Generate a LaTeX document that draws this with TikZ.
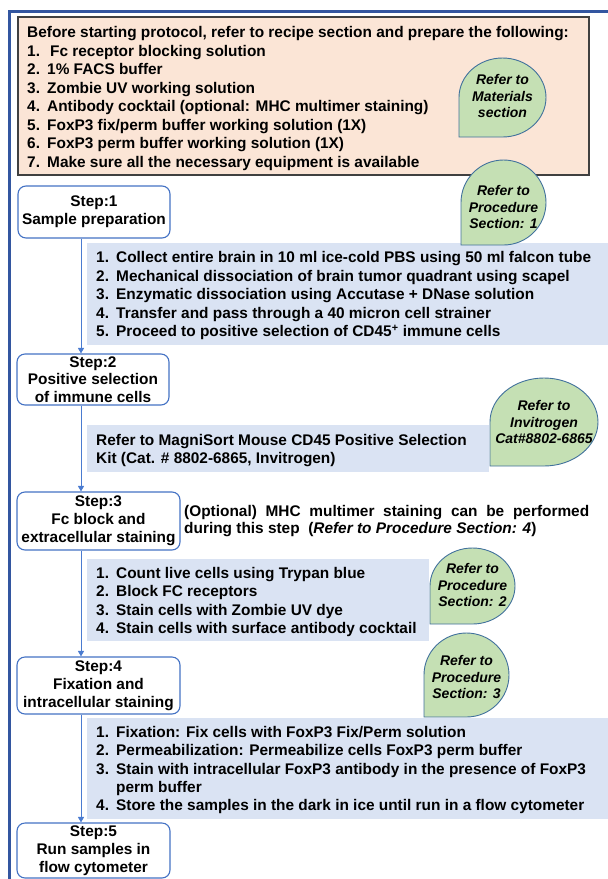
\documentclass[tikz,border=0pt]{standalone}
\usepackage{fontspec}
\setmainfont{Liberation Sans}
\usetikzlibrary{arrows.meta}
\definecolor{peach}{HTML}{FBE5D6}
\definecolor{lblue}{HTML}{DAE3F3}
\definecolor{cgreen}{HTML}{C5E0B4}
\definecolor{cedge}{HTML}{41719C}
\definecolor{sedge}{HTML}{4472C4}
\definecolor{frameblue}{HTML}{3356A0}
\definecolor{arrblue}{HTML}{4A7BD0}
\definecolor{boxedge}{HTML}{404040}
\tikzset{
 stepbox/.style={draw=sedge, line width=1.1pt, rounded corners=8pt, fill=white, align=center,
   font=\fontsize{15.4}{17.8}\selectfont\bfseries, inner sep=0pt},
 calloutshape/.style={draw=cedge, fill=cgreen, line width=0.9pt},
 callouttext/.style={align=center, font=\fontsize{14}{16.5}\selectfont\bfseries\itshape, inner sep=0pt},
 listtext/.style={anchor=base west, inner sep=0pt, font=\fontsize{15.4}{18.4}\selectfont\bfseries},
 arr/.style={draw=arrblue, line width=1pt, -{Triangle[length=5.5pt,width=6pt]}},
 panel/.style={fill=lblue, draw=none},
}
\newcommand{\itm}[1]{\makebox[20pt][l]{#1}}
% teardrop callout: x1 y1 x2 y2 name textcentery text
\newcommand{\tdrop}[7]{%
 \pgfmathsetmacro\tdcx{(#1+#3)/2}\pgfmathsetmacro\tdcy{(#2+#4)/2}%
 \pgfmathsetmacro\tdkx{0.5523*(#3-#1)/2}\pgfmathsetmacro\tdky{0.5523*(#4-#2)/2}%
 \draw[calloutshape] (#1,\tdcy) -- (#1,#4) -- (\tdcx,#4)
   .. controls (\tdcx+\tdkx,#4) and (#3,\tdcy+\tdky) .. (#3,\tdcy)
   .. controls (#3,\tdcy-\tdky) and (\tdcx+\tdkx,#2) .. (\tdcx,#2)
   .. controls (\tdcx-\tdkx,#2) and (#1,\tdcy-\tdky) .. (#1,\tdcy) -- cycle;
 \node[callouttext] (#5) at (\tdcx,#6) {#7};}
\begin{document}
\begin{tikzpicture}[x=1pt,y=-1pt]
\useasboundingbox (0,0) rectangle (608,879);
% outer frame
\draw[frameblue, line width=3pt] (9.5,880) -- (9.5,11) -- (609,11);
% top box
\draw[fill=peach, draw=boxedge, line width=1.2pt] (18,17) rectangle (589,175);
\node[listtext] (prep) at (27,37.5) {\parbox[t]{560pt}{\fontsize{15.4}{18.5}\selectfont\bfseries
Before starting protocol, refer to recipe section and prepare the following:\\
\itm{1.}\hspace{3pt}Fc receptor blocking solution\\
\itm{2.}1\% FACS buffer\\
\itm{3.}Zombie UV working solution\\
\itm{4.}Antibody cocktail (optional: MHC multimer staining)\\
\itm{5.}FoxP3 fix/perm buffer working solution (1X)\\
\itm{6.}FoxP3 perm buffer working solution (1X)\\
\itm{7.}Make sure all the necessary equipment is available}};
\tdrop{459}{58}{546}{137}{cmat}{96}{Refer to\\Materials\\section}
% anchor for connectors
\coordinate (ax) at (81,0);
% step boxes
\node[stepbox, minimum width=152pt, minimum height=52pt] (s1) at (94,212) {Step:1\\Sample preparation};
\node[stepbox, minimum width=152pt, minimum height=51pt] (s2) at (93,379.5) {Step:2\\Positive selection\\of immune cells};
\node[stepbox, minimum width=163pt, minimum height=58pt] (s3) at (98.5,521) {Step:3\\Fc block and\\extracellular staining};
\node[stepbox, minimum width=163pt, minimum height=57pt] (s4) at (98.5,685.5) {Step:4\\Fixation and\\intracellular staining};
\node[stepbox, minimum width=153pt, minimum height=55pt] (s5) at (93.5,850.5) {Step:5\\Run samples in\\flow cytometer};
% panels
\fill[panel] (87,243) rectangle (609,345);
\node[listtext] (p1) at (96,262.5) {\parbox[t]{510pt}{\fontsize{15.4}{18.5}\selectfont\bfseries
\itm{1.}Collect entire brain in 10 ml ice-cold PBS using 50 ml falcon tube\\
\itm{2.}Mechanical dissociation of brain tumor quadrant using scapel\\
\itm{3.}Enzymatic dissociation using Accutase + DNase solution\\
\itm{4.}Transfer and pass through a 40 micron cell strainer\\
\itm{5.}Proceed to positive selection of CD45\textsuperscript{+} immune cells}};
\tdrop{461}{160}{546}{245}{cp1}{207}{Refer to\\Procedure\\Section: 1}
\fill[panel] (87,425) rectangle (489,472);
\node[listtext] (p2) at (96,445.5) {\parbox[t]{390pt}{\fontsize{15.4}{18}\selectfont\bfseries
Refer to MagniSort Mouse CD45 Positive Selection\\
Kit (Cat. \# 8802-6865, Invitrogen)}};
\tdrop{490}{378}{598}{466}{cinv}{422}{Refer to\\Invitrogen\\Cat\#8802-6865}
\node[listtext] (opt1) at (184,516.5) {\makebox[405pt][s]{(Optional) MHC multimer staining can be performed}};
\node[listtext] (opt2) at (184,533.5) {during this step\ \ (\textit{Refer to Procedure Section: 4})};
\fill[panel] (87,559) rectangle (429,641);
\node[listtext] (p3) at (96,578.5) {\parbox[t]{330pt}{\fontsize{15.4}{18.4}\selectfont\bfseries
\itm{1.}Count live cells using Trypan blue\\
\itm{2.}Block FC receptors\\
\itm{3.}Stain cells with Zombie UV dye\\
\itm{4.}Stain cells with surface antibody cocktail}};
\tdrop{430}{548}{515}{624}{cp2}{585}{Refer to\\Procedure\\Section: 2}
\tdrop{424}{633}{509}{717}{cp3}{677}{Refer to\\Procedure\\Section: 3}
\fill[panel] (87,718) rectangle (609,819);
\node[listtext] (p4) at (96,737.5) {\parbox[t]{510pt}{\fontsize{15.4}{18.3}\selectfont\bfseries
\itm{1.}Fixation: Fix cells with FoxP3 Fix/Perm solution\\
\itm{2.}Permeabilization: Permeabilize cells FoxP3 perm buffer\\
\itm{3.}Stain with intracellular FoxP3 antibody in the presence of FoxP3\\
\itm{}perm buffer\\
\itm{4.}Store the samples in the dark in ice until run in a flow cytometer}};
% connectors
\draw[arr] (s1.south -| ax) -- (s2.north -| ax);
\draw[arr] (s2.south -| ax) -- (s3.north -| ax);
\draw[arr] (s3.south -| ax) -- (s4.north -| ax);
\draw[arr] (s4.south -| ax) -- (s5.north -| ax);
\end{tikzpicture}
\end{document}
